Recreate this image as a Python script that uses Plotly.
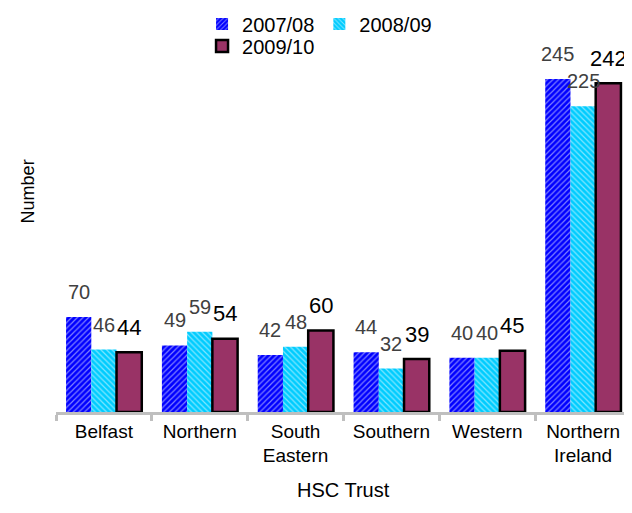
import plotly.graph_objects as go

trusts = ["Belfast", "Northern", "South<br>Eastern", "Southern", "Western", "Northern<br>Ireland"]
years = ["2007/08", "2008/09", "2009/10"]
values_0708 = [70, 49, 42, 44, 40, 245]
values_0809 = [46, 59, 48, 32, 40, 225]
values_0910 = [44, 54, 60, 39, 45, 242]

font_family = "Liberation Sans, Arial, sans-serif"
bargap = 0.21
bar_width = (1 - bargap) / 3

fig = go.Figure()

fig.add_trace(go.Bar(
    x=trusts, y=values_0708, name=years[0],
    marker=dict(color="#0000FF", line=dict(width=0),
                pattern=dict(shape="/", bgcolor="#0000FF", fgcolor="white",
                             size=4, solidity=0.3)),
    legend="legend",
))
fig.add_trace(go.Bar(
    x=trusts, y=values_0809, name=years[1],
    marker=dict(color="#00CCFF", line=dict(width=0),
                pattern=dict(shape="\\", bgcolor="#00CCFF", fgcolor="white",
                             size=4, solidity=0.3)),
    legend="legend",
))
fig.add_trace(go.Bar(
    x=trusts, y=values_0910, name=years[2],
    marker=dict(color="#993366", line=dict(color="black", width=2.5)),
    legend="legend2",
))

# value labels sit well above each bar, as in the source chart
label_specs = [
    (values_0708, -bar_width, "#404040", 20),
    (values_0809, 0, "#404040", 20),
    (values_0910, bar_width, "black", 22),
]
for values, offset, colour, size in label_specs:
    for i, v in enumerate(values):
        fig.add_annotation(
            x=i + offset, y=v, text=str(v), showarrow=False,
            xref="x", yref="y", yanchor="middle", yshift=25,
            font=dict(color=colour, size=size, family=font_family),
        )

fig.add_annotation(
    text="HSC Trust", xref="paper", yref="paper", x=0.5, y=-0.219,
    xanchor="center", yanchor="middle", showarrow=False,
    font=dict(size=20, family=font_family, color="black"),
)
fig.add_annotation(
    text="Number", xref="paper", yref="paper", x=-0.0485, y=0.62,
    xanchor="center", yanchor="middle", showarrow=False, textangle=-90,
    font=dict(size=18, family=font_family, color="black"),
)

fig.update_layout(
    width=632, height=513,
    margin=dict(l=48, r=9, t=48, b=109, autoexpand=False),
    plot_bgcolor="white", paper_bgcolor="white",
    font=dict(family=font_family, size=19, color="black"),
    barmode="group", bargap=bargap, bargroupgap=0,
    legend=dict(orientation="h", x=0.254, y=1.09, xanchor="left", yanchor="middle",
                font=dict(size=20), itemwidth=30, tracegroupgap=0,
                bgcolor="rgba(0,0,0,0)"),
    legend2=dict(orientation="h", x=0.254, y=1.028, xanchor="left", yanchor="middle",
                 font=dict(size=20), itemwidth=30, bgcolor="rgba(0,0,0,0)"),
)
fig.update_xaxes(
    showline=True, linecolor="#BFBFBF", linewidth=2.5,
    ticks="outside", tickson="boundaries", ticklen=6, tickcolor="#BFBFBF", tickwidth=2.5,
    tickfont=dict(size=19),
)
fig.update_yaxes(
    range=[0, 262], showticklabels=False, showgrid=False, zeroline=False,
    showline=False, ticks="",
)

fig.write_html("out.html")
